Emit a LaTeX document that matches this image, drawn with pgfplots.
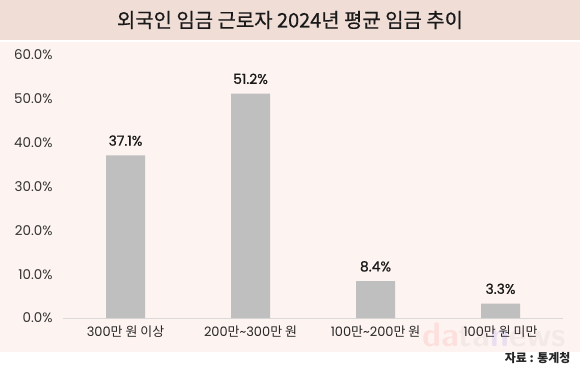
\documentclass[border=0pt]{standalone}
\usepackage{fontspec}
\setmainfont{Poppins}
\newfontfamily\pmed[FakeBold=0.6]{Poppins}
\newfontfamily\kr{Noto Sans CJK KR}
\newfontfamily\krmed[FakeBold=0.5]{Noto Sans CJK KR}
\usepackage{pgfplots}
\pgfplotsset{compat=1.18}
\definecolor{titlebg}{HTML}{EFDDD6}
\definecolor{plotbg}{HTML}{FDF3F0}
\definecolor{barc}{HTML}{BFBFBF}
\definecolor{axc}{HTML}{D9D9D9}
\begin{document}
\begin{tikzpicture}[x=1bp,y=1bp]
\useasboundingbox (0,0) rectangle (580,379);
\fill[white] (0,0) rectangle (580,379);
\fill[titlebg] (0,339) rectangle (580,379);
\fill[plotbg] (0,27) rectangle (580,337);
\node[font=\krmed\fontsize{20}{20}\selectfont, text=black!90] at (290,359) {외국인 임금 근로자 2024년 평균 임금 추이};
\begin{scope}
\clip (0,27) rectangle (580,337);
\node[anchor=base west, inner sep=0, opacity=0.08, font=\sffamily\bfseries\fontsize{34}{34}\selectfont] at (422,33) {\textcolor{red}{da}\textcolor{gray}{ta}\textcolor{blue}{n}\textcolor{gray}{ews}};
\end{scope}
\begin{axis}[
  at={(63bp,61bp)}, anchor=south west, scale only axis,
  width=500bp, height=263bp,
  xmin=-0.5, xmax=3.5, ymin=0, ymax=60,
  axis x line=bottom, axis y line=left,
  x axis line style={draw=axc, line width=1pt, -},
  y axis line style={draw=none},
  major tick length=0pt,
  ytick={0,10,20,30,40,50,60},
  xtick={0,1,2,3},
  xticklabels={300{\kr 만 원 이상}, 200{\kr 만}\textasciitilde300{\kr 만 원}, 100{\kr 만}\textasciitilde200{\kr 만 원}, 100{\kr 만 원 미만}},
  yticklabel={\pgfmathprintnumber[fixed,fixed zerofill,precision=1]{\tick}\%},
  /pgf/number format/assume math mode=true,
  yticklabel style={font=\fontsize{13.5}{13.5}\selectfont, text=black!80, xshift=-7bp},
  xticklabel style={font=\fontsize{13}{13}\selectfont, text=black!85, yshift=-4bp},
  ybar, bar width=39bp,
  nodes near coords={\pgfmathprintnumber[fixed,fixed zerofill,precision=1]{\pgfplotspointmeta}\%},
  nodes near coords style={font=\pmed\fontsize{14}{14}\selectfont, text=black!90, yshift=6bp},
  clip=false,
]
\addplot[fill=barc, draw=none] coordinates {(0,37.1) (1,51.2) (2,8.4) (3,3.3)};
\end{axis}
\node[anchor=east, font=\kr\bfseries\fontsize{12}{12}\selectfont, text=black!85] at (574,21) {자료 : 통계청};
\end{tikzpicture}
\end{document}
